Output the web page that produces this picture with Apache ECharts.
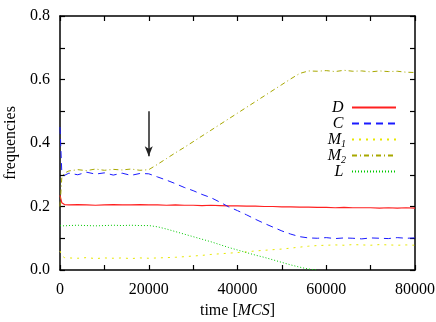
<!DOCTYPE html>
<html>
<head>
<meta charset="utf-8">
<script src="https://cdn.jsdelivr.net/npm/echarts@6/dist/echarts.min.js"></script>
<style>
  html, body { margin: 0; padding: 0; background: #fff; }
  #chart { width: 436px; height: 322px; }
</style>
</head>
<body>
<div id="chart"></div>
<script>
// time axis (MCS)
const times = [0, 400, 1000, 2000, 4000, 6000, 8000, 10000, 12000, 14000, 16000, 18000, 20000,
  22000, 24000, 26000, 28000, 30000, 32000, 34000, 36000, 38000, 40000, 42000, 44000, 46000,
  48000, 50000, 52000, 54000, 56000, 58000, 60000, 62000, 64000, 66000, 68000, 70000, 72000,
  74000, 76000, 78000, 80000]

const freqD = [0.235, 0.212, 0.206, 0.205, 0.206, 0.205, 0.204, 0.205, 0.206, 0.205, 0.205, 0.206, 0.205,
  0.205, 0.204, 0.205, 0.204, 0.204, 0.203, 0.204, 0.203, 0.202, 0.202, 0.201, 0.201, 0.200,
  0.200, 0.199, 0.199, 0.198, 0.198, 0.197, 0.197, 0.196, 0.197, 0.196, 0.196, 0.196, 0.195,
  0.196, 0.195, 0.196, 0.195]
const freqC = [0.45, 0.31, 0.298, 0.305, 0.300, 0.308, 0.302, 0.306, 0.299, 0.305, 0.298, 0.304, 0.303,
  0.293, 0.283, 0.272, 0.260, 0.250, 0.238, 0.228, 0.214, 0.199, 0.187, 0.174, 0.160, 0.147,
  0.135, 0.123, 0.113, 0.105, 0.101, 0.100, 0.102, 0.099, 0.101, 0.100, 0.098, 0.101, 0.100,
  0.099, 0.102, 0.100, 0.101]
const freqM1 = [0.06, 0.045, 0.039, 0.038, 0.037, 0.039, 0.036, 0.038, 0.037, 0.038, 0.036, 0.038, 0.037,
  0.038, 0.039, 0.040, 0.042, 0.044, 0.046, 0.049, 0.051, 0.053, 0.055, 0.057, 0.060, 0.062,
  0.064, 0.066, 0.069, 0.072, 0.075, 0.077, 0.078, 0.079, 0.078, 0.080, 0.079, 0.078, 0.080,
  0.079, 0.078, 0.079, 0.078]
const freqM2 = [0.20, 0.29, 0.305, 0.312, 0.316, 0.313, 0.318, 0.314, 0.317, 0.315, 0.318, 0.314, 0.316,
  0.333, 0.351, 0.369, 0.386, 0.404, 0.422, 0.440, 0.458, 0.476, 0.494, 0.512, 0.530, 0.548,
  0.566, 0.584, 0.602, 0.619, 0.627, 0.626, 0.628, 0.625, 0.629, 0.626, 0.627, 0.624, 0.627,
  0.625, 0.626, 0.623, 0.622]
const freqL = [0.14, 0.14, 0.139, 0.140, 0.141, 0.140, 0.139, 0.140, 0.141, 0.140, 0.141, 0.140, 0.140,
  0.136, 0.129, 0.121, 0.113, 0.105, 0.097, 0.089, 0.080, 0.071, 0.063, 0.055, 0.047, 0.040,
  0.032, 0.024, 0.016, 0.009, 0.003, 0.0, null, null, null, null, null, null, null,
  null, null, null, null]

const names = ['D', 'C', 'M1', 'M2', 'L']
const arrowFrom = [20000, 0.5]
const arrowTo = [20000, 0.358]

const font = 'Liberation Serif'
const pairs = arr => times.map((t, i) => [t, arr[i]])

const line = (name, data, color, type, width) => ({
  name: name,
  type: 'line',
  data: pairs(data),
  showSymbol: false,
  symbol: 'none',
  animation: false,
  lineStyle: { color: color, width: width || 1, type: type },
  itemStyle: { color: color }
})

const series = [
  line(names[0], freqD, '#ff2020', 'solid', 1.2),
  line(names[1], freqC, '#1a1aff', [7, 5]),
  line(names[2], freqM1, '#e8e800', [2, 5]),
  line(names[3], freqM2, '#a8a800', [5, 3, 1, 3]),
  line(names[4], freqL, '#00c800', [1, 2])
]
series[0].markLine = {
  silent: true,
  animation: false,
  symbol: ['none', 'arrow'],
  symbolSize: [6, 10],
  label: { show: false },
  lineStyle: { color: '#222', width: 1.5, type: 'solid' },
  data: [[{ coord: arrowFrom }, { coord: arrowTo }]]
}

const axisBase = {
  type: 'value',
  axisLine: { show: true, onZero: false, lineStyle: { color: '#000', width: 1.5 } },
  axisTick: { show: true, inside: true, length: 5, lineStyle: { color: '#000', width: 1.2 } },
  splitLine: { show: false }
}

const chart = echarts.init(document.getElementById('chart'))
chart.setOption({
  backgroundColor: '#fff',
  textStyle: { fontFamily: font },
  grid: { left: 60, right: 21, top: 16, bottom: 52, containLabel: false, outerBoundsMode: 'none' },
  legend: {
    orient: 'vertical',
    right: 39,
    top: 98,
    padding: 0,
    align: 'right',
    itemWidth: 44,
    itemHeight: 10,
    itemGap: -3,
    itemStyle: { opacity: 0 },
    data: names,
    // every label gets a subscript slot so all rows have the same height
    formatter: n => `{i|${n[0]}}{s|${n.length > 1 ? n[1] : ' '}}`,
    textStyle: {
      fontFamily: font,
      width: 26,
      align: 'right',
      padding: [0, 1, 0, 0],
      rich: {
        i: { fontFamily: font, fontStyle: 'italic', fontSize: 16, color: '#000', lineHeight: 16, verticalAlign: 'middle' },
        s: { fontFamily: font, fontStyle: 'italic', fontSize: 10, color: '#000', lineHeight: 10, padding: [9, 0, 0, 0], verticalAlign: 'middle' }
      }
    }
  },
  xAxis: [
    Object.assign({}, axisBase, {
      min: 0, max: 80000, interval: 10000,
      name: 'time [{i|MCS}]',
      nameLocation: 'middle',
      nameGap: 33,
      nameTextStyle: {
        fontFamily: font, fontSize: 16, color: '#000',
        rich: { i: { fontFamily: font, fontStyle: 'italic', fontSize: 16, color: '#000' } }
      },
      axisLabel: {
        fontFamily: font, fontSize: 16, color: '#000', margin: 12,
        formatter: v => (v % 20000 === 0 ? String(v) : '')
      }
    }),
    Object.assign({}, axisBase, {
      position: 'top', min: 0, max: 80000, interval: 10000,
      axisLabel: { show: false }
    })
  ],
  yAxis: [
    Object.assign({}, axisBase, {
      min: 0, max: 0.8, interval: 0.1,
      name: 'frequencies',
      nameLocation: 'middle',
      nameGap: 40,
      nameTextStyle: { fontFamily: font, fontSize: 16, color: '#000' },
      axisLabel: {
        fontFamily: font, fontSize: 16, color: '#000', margin: 10,
        formatter: v => (Math.round(v * 10) % 2 === 0 ? v.toFixed(1) : '')
      }
    }),
    Object.assign({}, axisBase, {
      position: 'right', min: 0, max: 0.8, interval: 0.1,
      axisLabel: { show: false }
    })
  ],
  series: series
})
</script>
</body>
</html>
